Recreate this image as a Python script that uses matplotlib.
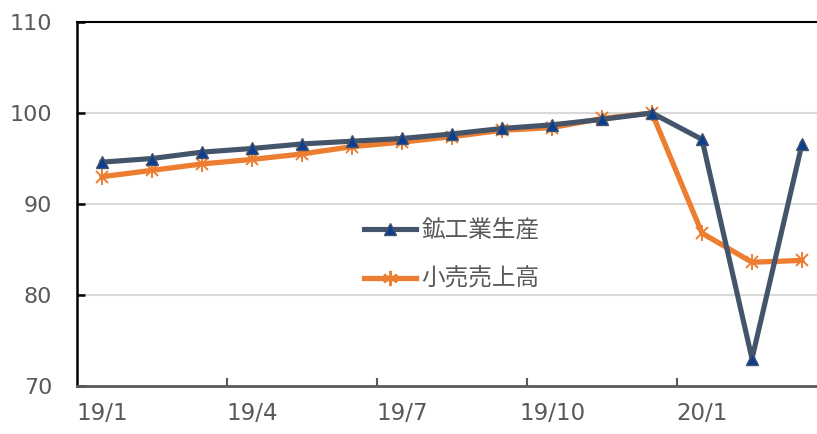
import numpy as np
import matplotlib
matplotlib.use('Agg')
import matplotlib.pyplot as plt

plt.rcParams['font.family'] = ['DejaVu Sans', 'Noto Sans CJK JP']

# monthly index, 2019/12 = 100
months = ['19/1', '19/2', '19/3', '19/4', '19/5', '19/6', '19/7', '19/8',
          '19/9', '19/10', '19/11', '19/12', '20/1', '20/2', '20/3']
mining = [94.6, 95.0, 95.7, 96.1, 96.6, 96.9, 97.2, 97.7,
          98.3, 98.7, 99.3, 100.0, 97.1, 73.0, 96.6]
retail = [93.0, 93.7, 94.4, 94.9, 95.5, 96.3, 96.8, 97.4,
          98.1, 98.4, 99.4, 100.0, 86.8, 83.6, 83.8]
label_mining = '鉱工業生産'
label_retail = '小売売上高'
y_ticks = [70, 80, 90, 100, 110]

gray = '#595959'
navy = '#44546A'
orange = '#ED7D31'

fig = plt.figure(figsize=(8.17, 4.34), dpi=100)
ax = fig.add_axes([77 / 817, 48 / 434, 750 / 817, 364 / 434])

x = np.arange(len(months))

ax.plot(x, mining, color=navy, lw=3.7, marker='^', ms=9,
        mfc='#0B3D91', mec=navy, mew=1, label=label_mining, zorder=4)
ax.plot(x, retail, color=orange, lw=3.8, zorder=3)
# excel style star marker: x plus vertical bar
ax.plot(x, retail, ls='none', marker='x', ms=9, mec=orange, mew=1.4, zorder=3)
ax.plot(x, retail, ls='none', marker='|', ms=11, mec=orange, mew=1.4, zorder=3)

ax.set_xlim(-0.5, len(months) - 0.5)
ax.set_ylim(70, 110)
ax.set_yticks(y_ticks)
ax.set_yticklabels([str(v) for v in y_ticks], fontsize=16, color=gray)
ax.tick_params(axis='y', direction='in', length=6, width=1.8, color='black', pad=18)

# category labels every 3 months, ticks on boundaries
ax.set_xticks(np.arange(2.5, len(months) - 1, 3))
ax.set_xticklabels([])
ax.tick_params(axis='x', which='major', direction='in', length=6, width=1.5, color=gray)
ax.set_xticks(x[::3], minor=True)
ax.set_xticklabels(months[::3], minor=True, fontsize=16.5, color=gray)
ax.tick_params(axis='x', which='minor', length=0, pad=11.5)

for v in [80, 90, 100]:
    ax.axhline(v, color='#d9d9d9', lw=1.5, zorder=1)

ax.spines['left'].set_color('black')
ax.spines['left'].set_linewidth(1.8)
ax.spines['top'].set_color('black')
ax.spines['top'].set_linewidth(1.5)
ax.spines['bottom'].set_color(gray)
ax.spines['bottom'].set_linewidth(2)
ax.spines['right'].set_visible(False)

# legend handles
h1, = ax.plot([], [], color=navy, lw=3.7, marker='^', ms=9, mfc='#0B3D91', mec=navy)
h2, = ax.plot([], [], color=orange, lw=3.8, marker=(6, 2, 0), ms=11, mec=orange, mew=1.4)
leg = ax.legend([h1, h2], [label_mining, label_retail], loc='upper left',
                bbox_to_anchor=(352 / 817, 1 - 207 / 434), bbox_transform=fig.transFigure,
                frameon=False, borderpad=0, handlelength=2.2, handletextpad=0.25,
                labelspacing=1.1, numpoints=1,
                prop={'family': 'Noto Sans CJK JP', 'size': 17})
for t in leg.get_texts():
    t.set_color(gray)

fig.savefig('out.png', dpi=100)
